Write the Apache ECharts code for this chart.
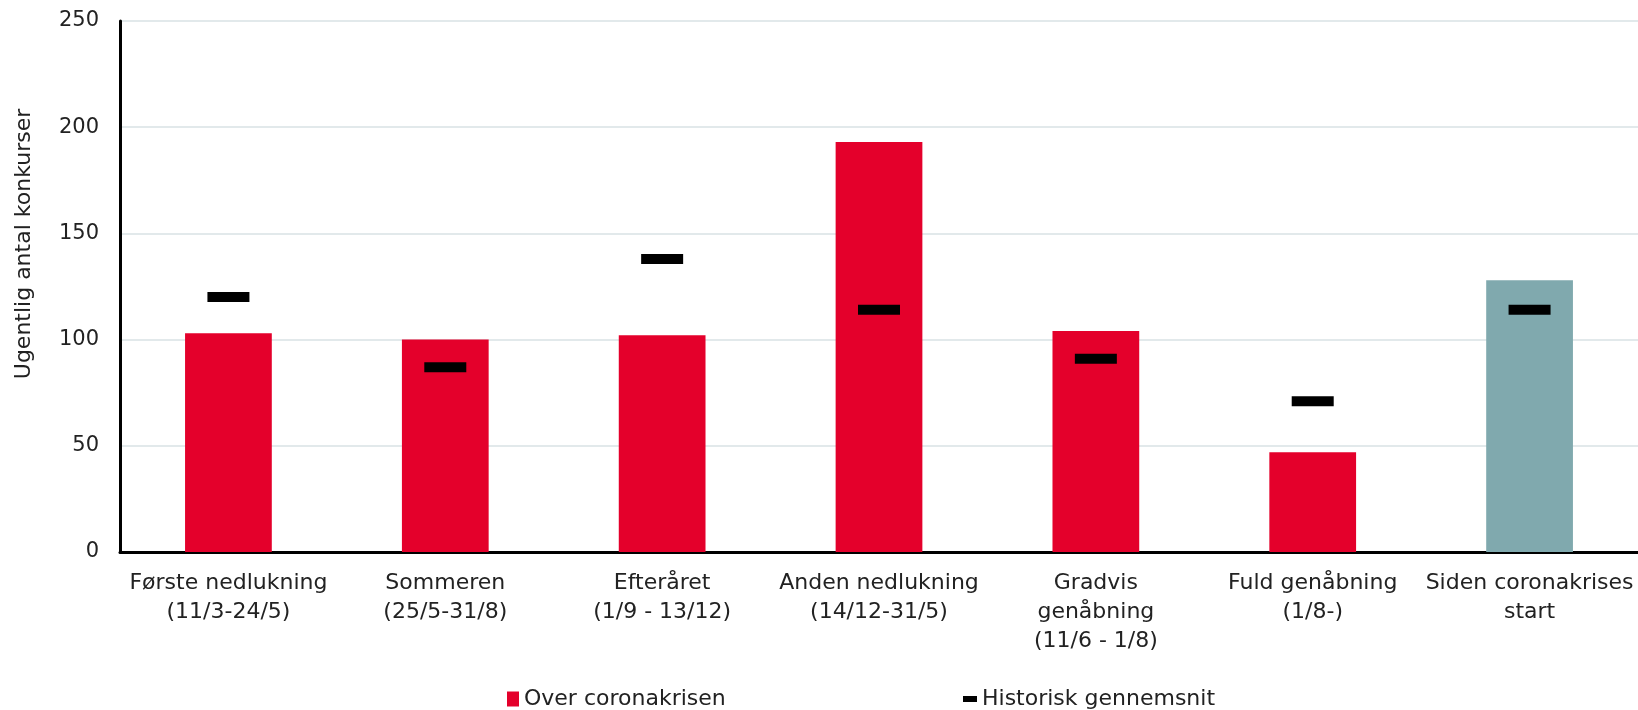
<!DOCTYPE html>
<html>
<head>
<meta charset="utf-8">
<script src="https://cdn.jsdelivr.net/npm/echarts@6/dist/echarts.min.js"></script>
<style>
    html, body { margin: 0; padding: 0; background: #fff; }
    #chart { width: 1638px; height: 710px; }
</style>
</head>
<body>
<div id="chart"></div>
<script>
// perioder
const categories = [
    'Første nedlukning\n(11/3-24/5)',
    'Sommeren\n(25/5-31/8)',
    'Efteråret\n(1/9 - 13/12)',
    'Anden nedlukning\n(14/12-31/5)',
    'Gradvis\ngenåbning\n(11/6 - 1/8)',
    'Fuld genåbning\n(1/8-)',
    'Siden coronakrises\nstart'
]
// ugentligt antal konkurser
const overCorona = [103, 100, 102, 193, 104, 47, 128]
const historisk = [120, 87, 138, 114, 91, 71, 114]
const yTicks = [0, 50, 100, 150, 200, 250]

const RED = '#E4002B'
const TEAL = '#80A9AE'
const FONT = 'DejaVu Sans'
const FS = 22

const chartInstance = echarts.init(document.getElementById('chart'))

const option = {
    animation: false,
    textStyle: { fontFamily: FONT, color: '#222' },
    grid: {
        left: 120,
        right: 0,
        top: 21,
        bottom: 158
    },
    // aksetitel placeret som i originalen (lidt over midten)
    graphic: [
        {
            type: 'text',
            x: 24,
            y: 244,
            rotation: Math.PI / 2,
            style: {
                text: 'Ugentlig antal konkurser',
                font: FS + 'px ' + FONT,
                fill: '#222',
                align: 'center',
                verticalAlign: 'middle'
            }
        }
    ],
    legend: [
        {
            data: [{ name: 'Over coronakrisen', icon: 'rect' }],
            left: 502,
            top: 683,
            itemWidth: 12,
            itemHeight: 15,
            textStyle: { fontFamily: FONT, fontSize: FS, color: '#222' }
        },
        {
            data: [{ name: 'Historisk gennemsnit', icon: 'rect' }],
            left: 958,
            top: 683,
            itemWidth: 14,
            itemHeight: 6,
            textStyle: { fontFamily: FONT, fontSize: FS, color: '#222' }
        }
    ],
    xAxis: {
        type: 'category',
        data: categories,
        axisLine: { lineStyle: { color: '#000', width: 3 } },
        axisTick: { show: false },
        axisLabel: {
            interval: 0,
            margin: 17,
            fontSize: FS,
            lineHeight: 29,
            color: '#222',
            fontFamily: FONT
        }
    },
    yAxis: {
        type: 'value',
        min: yTicks[0],
        max: yTicks[yTicks.length - 1],
        interval: 50,
        axisLine: { show: true, lineStyle: { color: '#000', width: 3 } },
        axisTick: { show: false },
        axisLabel: { fontSize: 21, margin: 21, color: '#222', fontFamily: FONT },
        splitLine: { lineStyle: { color: '#D9E2E4', width: 1.5 } }
    },
    series: [
        {
            name: 'Over coronakrisen',
            type: 'bar',
            barWidth: '40%',
            itemStyle: { color: RED },
            data: overCorona.map((v, i) =>
                i === overCorona.length - 1
                    ? { value: v, itemStyle: { color: TEAL } }
                    : v
            )
        },
        {
            name: 'Historisk gennemsnit',
            type: 'scatter',
            symbol: 'rect',
            symbolSize: [42, 10],
            itemStyle: { color: '#000', opacity: 1 },
            z: 5,
            data: historisk
        }
    ]
}

chartInstance.setOption(option)
</script>
</body>
</html>
